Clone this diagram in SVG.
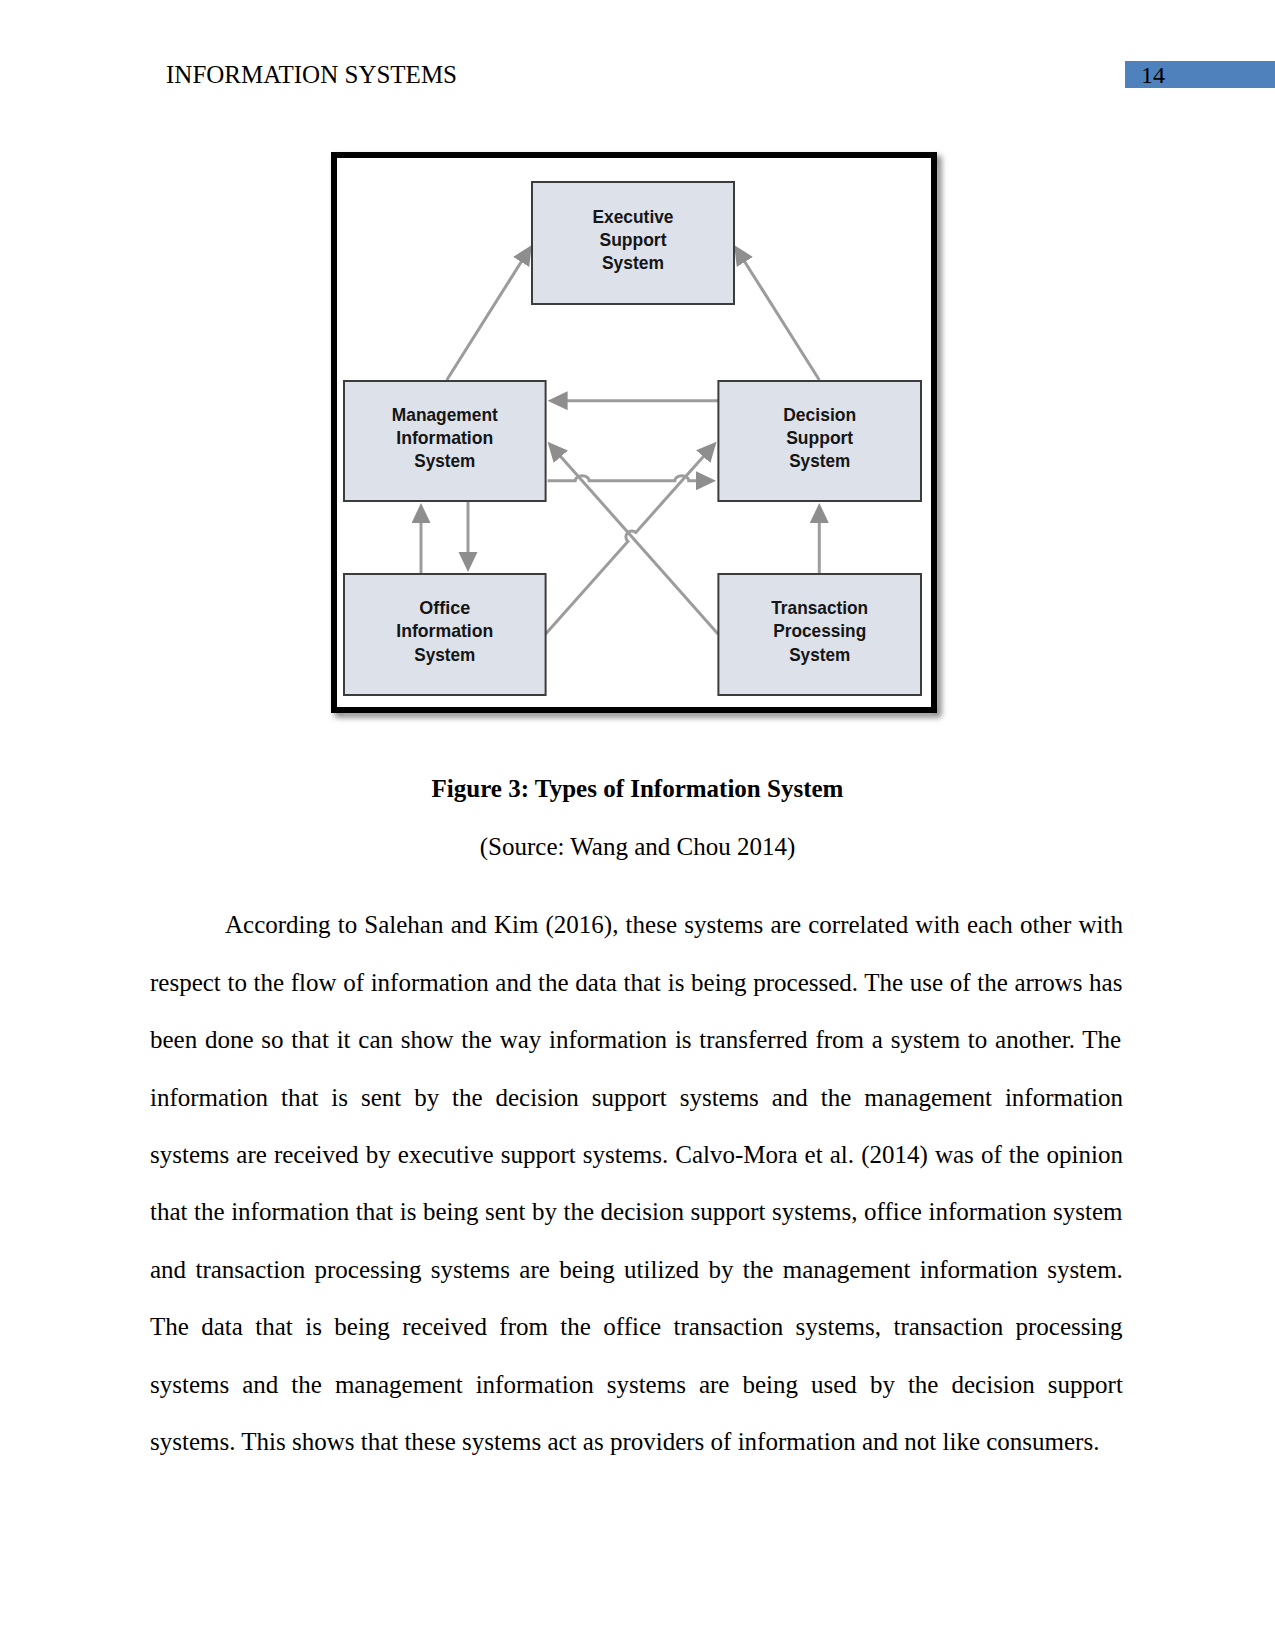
<svg xmlns="http://www.w3.org/2000/svg" width="1275" height="1650" viewBox="0 0 1275 1650">
<defs>
<style>
.page{font-family:"Liberation Serif","Times New Roman",serif;fill:#000;}
.body{font-size:25px;}
.box{fill:#dce1ea;stroke:#3c3c3c;stroke-width:2;}
.lbl{font-family:"Liberation Sans",Arial,sans-serif;font-weight:bold;font-size:19px;fill:#151515;text-anchor:middle;}
.con{fill:none;stroke:#9c9c9c;stroke-width:3;marker-end:url(#ah);}
</style>
<marker id="ah" markerUnits="userSpaceOnUse" markerWidth="22" markerHeight="21" refX="10" refY="9.5" orient="auto">
<path d="M0,0 L20,9.5 L0,19 Z" fill="#8e8e8e"/>
</marker>
<filter id="sh" x="-5%" y="-5%" width="110%" height="110%">
<feGaussianBlur stdDeviation="3"/>
</filter>
</defs>
<rect width="1275" height="1650" fill="#fff"/>
<g id="header">
<text class="page" x="166" y="83" font-size="25">INFORMATION SYSTEMS</text>
<rect x="1125" y="61" width="150" height="27" fill="#4f81bd"/>
<text class="page" x="1141" y="83" font-size="24">14</text>
</g>
<g id="frame">
<rect x="338" y="159" width="600" height="555" fill="none" stroke="#777" stroke-width="6" filter="url(#sh)"/>
<rect x="334" y="155" width="600" height="555" fill="#fff" stroke="#000" stroke-width="6"/>
</g>
<g id="connectors">
<path class="con" d="M718,400.7 H557.6"/>
<path class="con" d="M547.6,480.7 H575.2 A7,5 0 0 1 589.2,480.7 H674.8 A7,5 0 0 1 688.8,480.7 H706"/>
<path class="con" d="M718,634 L554.2,449.2"/>
<path class="con" d="M545.6,634 L627.9,541.4 A6,6 0 0 1 635.9,532.4 L709.9,449.2"/>
<path class="con" d="M446.8,380 L526.5,253.5"/>
<path class="con" d="M819.3,380 L739.5,253.5"/>
<path class="con" d="M421,574 V513"/>
<path class="con" d="M468,501 V562"/>
<path class="con" d="M819.3,574 V513"/>
</g>
<g id="ess">
<rect class="box" x="532" y="182" width="202" height="122"/>
<text class="lbl" x="633" y="222.5" textLength="81" lengthAdjust="spacingAndGlyphs">Executive</text>
<text class="lbl" x="633" y="245.8" textLength="67" lengthAdjust="spacingAndGlyphs">Support</text>
<text class="lbl" x="633" y="269.2" textLength="62" lengthAdjust="spacingAndGlyphs">System</text>
</g>
<g id="mis">
<rect class="box" x="344" y="381" width="201.6" height="120"/>
<text class="lbl" x="444.8" y="420.5" textLength="106" lengthAdjust="spacingAndGlyphs">Management</text>
<text class="lbl" x="444.8" y="443.8" textLength="97" lengthAdjust="spacingAndGlyphs">Information</text>
<text class="lbl" x="444.8" y="467.2" textLength="61" lengthAdjust="spacingAndGlyphs">System</text>
</g>
<g id="dss">
<rect class="box" x="718.4" y="381" width="202.6" height="120"/>
<text class="lbl" x="819.7" y="420.5" textLength="73" lengthAdjust="spacingAndGlyphs">Decision</text>
<text class="lbl" x="819.7" y="443.8" textLength="67" lengthAdjust="spacingAndGlyphs">Support</text>
<text class="lbl" x="819.7" y="467.2" textLength="61" lengthAdjust="spacingAndGlyphs">System</text>
</g>
<g id="ois">
<rect class="box" x="344" y="574" width="201.6" height="121"/>
<text class="lbl" x="444.8" y="613.8" textLength="51" lengthAdjust="spacingAndGlyphs">Office</text>
<text class="lbl" x="444.8" y="637.2" textLength="97" lengthAdjust="spacingAndGlyphs">Information</text>
<text class="lbl" x="444.8" y="660.5" textLength="61" lengthAdjust="spacingAndGlyphs">System</text>
</g>
<g id="tps">
<rect class="box" x="718.4" y="574" width="202.6" height="121"/>
<text class="lbl" x="819.7" y="613.8" textLength="97" lengthAdjust="spacingAndGlyphs">Transaction</text>
<text class="lbl" x="819.7" y="637.2" textLength="93" lengthAdjust="spacingAndGlyphs">Processing</text>
<text class="lbl" x="819.7" y="660.5" textLength="61" lengthAdjust="spacingAndGlyphs">System</text>
</g>
<g id="caption">
<text class="page" x="637.5" y="796.7" font-size="25" font-weight="bold" text-anchor="middle">Figure 3: Types of Information System</text>
<text class="page" x="637.5" y="855" font-size="25" text-anchor="middle">(Source: Wang and Chou 2014)</text>
</g>
<g id="body" class="page body">
<text x="225" y="933.4" word-spacing="0.93">According to Salehan and Kim (2016), these systems are correlated with each other with</text>
<text x="150" y="990.8" word-spacing="0.4">respect to the flow of information and the data that is being processed. The use of the arrows has</text>
<text x="150" y="1048.2" word-spacing="1.53">been done so that it can show the way information is transferred from a system to another. The</text>
<text x="150" y="1105.6" word-spacing="6.67">information that is sent by the decision support systems and the management information</text>
<text x="150" y="1163" word-spacing="0.86">systems are received by executive support systems. Calvo-Mora et al. (2014) was of the opinion</text>
<text x="150" y="1220.4" word-spacing="0.31">that the information that is being sent by the decision support systems, office information system</text>
<text x="150" y="1277.8" word-spacing="3.11">and transaction processing systems are being utilized by the management information system.</text>
<text x="150" y="1335.2" word-spacing="6.16">The data that is being received from the office transaction systems, transaction processing</text>
<text x="150" y="1392.6" word-spacing="6.78">systems and the management information systems are being used by the decision support</text>
<text x="150" y="1450">systems. This shows that these systems act as providers of information and not like consumers.</text>
</g>
</svg>
